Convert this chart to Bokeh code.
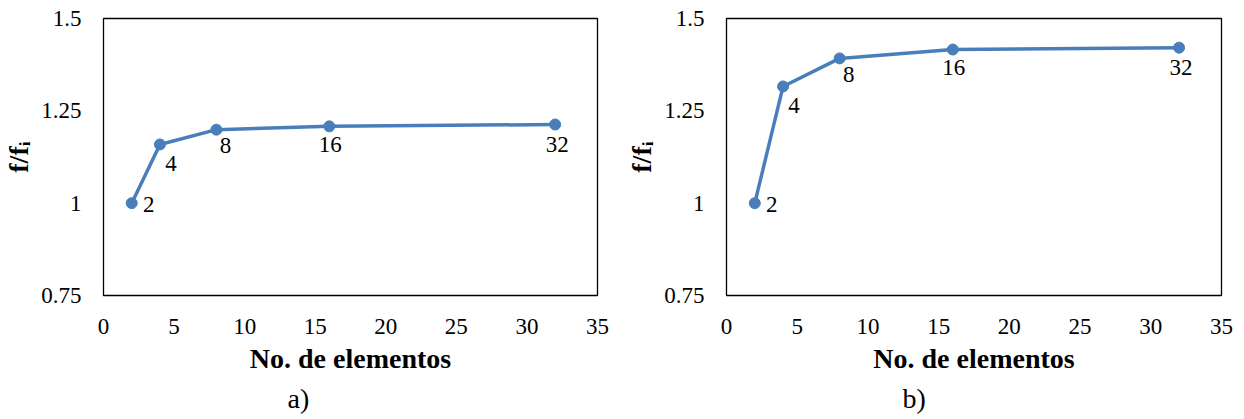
from bokeh.plotting import figure
from bokeh.layouts import row
from bokeh.models import ColumnDataSource, Title, Range1d, FixedTicker
from bokeh.embed import file_html
from bokeh.resources import INLINE
from bokeh.core.properties import value

# ---- data ----
elements = [2, 4, 8, 16, 32]
ratio_a = [1.0, 1.159, 1.199, 1.208, 1.213]
ratio_b = [1.0, 1.316, 1.392, 1.416, 1.421]
point_labels = ["2", "4", "8", "16", "32"]
x_ticks = [0, 5, 10, 15, 20, 25, 30, 35]
y_ticks = [0.75, 1.0, 1.25, 1.5]
y_tick_text = {0.75: "0.75", 1.0: "1", 1.25: "1.25", 1.5: "1.5"}
panel_names = ["a)", "b)"]

# ---- styles ----
FONT = "Liberation Serif"
BLUE = "#4a7ebb"
lab_dx = [17, 11, 9, 1, 2]
lab_dy = [1, 19, 16, 18, 20]


def make_panel(ys, name, w, bl, br, name_off):
    p = figure(width=w, height=419, output_backend="svg", toolbar_location=None,
               x_range=Range1d(0, 35), y_range=Range1d(0.75, 1.5),
               min_border_left=bl, min_border_right=br,
               min_border_top=18, min_border_bottom=124)
    p.grid.visible = False
    p.outline_line_color = "black"
    p.outline_line_width = 1.3
    p.background_fill_color = "white"
    p.border_fill_color = "white"

    for ax in (p.xaxis[0], p.yaxis[0]):
        ax.axis_line_color = None
        ax.major_tick_line_color = None
        ax.minor_tick_line_color = None
        ax.major_tick_out = 0
        ax.major_tick_in = 0
        ax.major_label_text_font = FONT
        ax.major_label_text_font_size = "23px"
        ax.major_label_text_color = "black"
        ax.axis_label_text_font = FONT
        ax.axis_label_text_font_style = "bold"
        ax.axis_label_text_color = "black"

    p.xaxis.ticker = FixedTicker(ticks=x_ticks)
    p.yaxis.ticker = FixedTicker(ticks=y_ticks)
    p.yaxis.major_label_overrides = y_tick_text
    p.xaxis.major_label_standoff = 23
    p.yaxis.major_label_standoff = 22
    p.xaxis.axis_label = "No. de elementos"
    p.xaxis.axis_label_text_font_size = "28px"
    p.xaxis.axis_label_standoff = 6
    p.yaxis.axis_label = "f/fᵢ"
    p.yaxis.axis_label_text_font_size = "28px"
    p.yaxis.axis_label_standoff = 4

    src = ColumnDataSource(dict(x=elements, y=ys, t=point_labels, dx=lab_dx, dy=lab_dy))
    p.line("x", "y", source=src, line_color=BLUE, line_width=3.5, line_join="round")
    p.scatter("x", "y", source=src, size=11, fill_color=BLUE, line_color=BLUE)
    p.text("x", "y", text="t", source=src, x_offset="dx", y_offset="dy",
           text_font=value(FONT), text_font_size="23px", text_color="black",
           text_align="center", text_baseline="middle")

    p.add_layout(Title(text=name, align="left", offset=name_off,
                       text_font=FONT, text_font_size="28px",
                       text_font_style="normal", text_color="black",
                       standoff=8), "below")
    return p


pa = make_panel(ratio_a, panel_names[0], 622, 102, 25, 184)
pb = make_panel(ratio_b, panel_names[1], 622, 104, 23, 176)

layout = row(pa, pb)
open("out.html", "w").write(file_html(layout, INLINE))
